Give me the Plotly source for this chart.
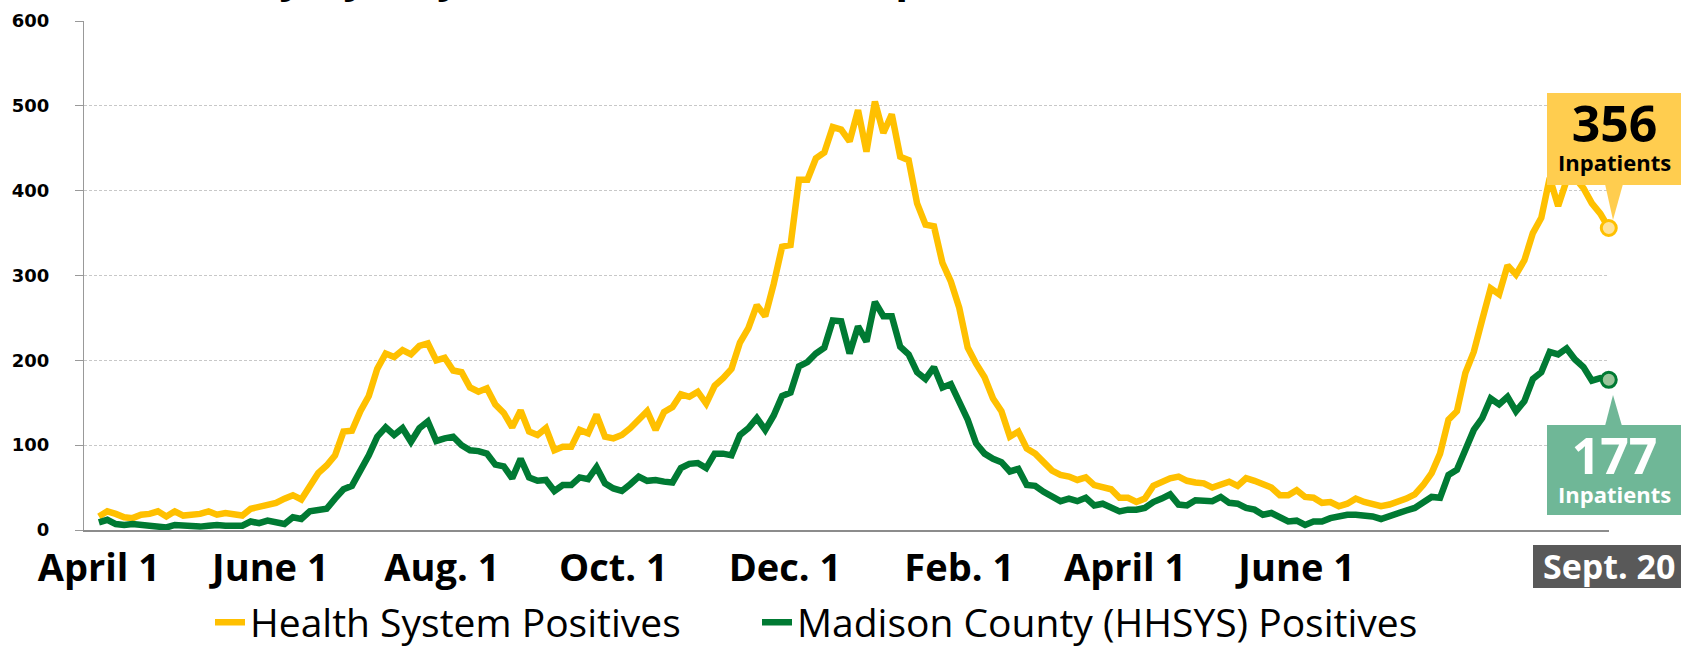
import pandas as pd
import plotly.graph_objects as go

# ---- data (every 3 days, 2020-04-01 .. 2021-09-20) ----
start_date = "2020-04-01"
step = "3D"
health_system = [
    16, 22, 19, 15, 14, 18, 19, 22, 16, 22,
    17, 18, 19, 22, 18, 20, 19, 17, 25, 27,
    29, 32, 37, 41, 36, 50, 67, 76, 88, 116,
    117, 140, 158, 190, 208, 204, 212, 207, 217, 220,
    200, 203, 188, 186, 168, 163,
    167, 148, 138, 121, 141, 116, 112, 120, 94, 98,
    98, 118, 114, 136, 110, 108, 112, 120, 130, 140,
    118, 139, 145, 160, 157, 163, 149, 170, 179, 190,
    221, 238, 265, 252, 290, 334, 336, 413, 413, 438,
    445, 475, 472, 458, 495, 446, 505,
    468, 490, 440, 436, 385, 360, 358, 315, 293, 262,
    215, 196, 180, 155, 140, 110, 116, 96, 90, 80,
    70, 65, 63, 59, 62, 53, 51, 48, 38, 38,
    33, 37, 52, 57, 61, 63, 58, 56, 55, 50,
    53, 57, 52, 61, 58, 54,
    50, 41, 41, 47, 39, 38, 32, 33, 28, 31,
    37, 33, 31, 28, 30, 33, 37, 42, 53, 67,
    90, 130, 140, 185, 210, 248, 285, 278, 312, 301,
    318, 350, 368, 415, 382, 412, 415, 403, 385, 373,
    356,
]
madison_county = [
    9, 12, 7, 6, 7, 6, 5, 3, 3, 6,
    5, 4, 4, 5, 6, 5, 5, 5, 10, 8,
    11, 9, 7, 15, 13, 22, 23, 25, 37, 48,
    52, 70, 88, 110, 121, 112, 120, 104, 120, 128,
    105, 108, 110, 100, 94, 93,
    90, 77, 75, 61, 84, 62, 58, 59, 46, 53,
    53, 62, 60, 74, 55, 49, 46, 54, 63, 58,
    59, 57, 56, 73, 78, 79, 73, 90, 90, 88,
    112, 120, 132, 118, 135, 158, 162, 193, 198, 208,
    215, 247, 246, 208, 240, 222, 269,
    252, 252, 216, 207, 186, 178, 192, 168, 172, 149,
    130, 102, 90, 84, 80, 69, 72, 53, 52, 45,
    40, 34, 37, 34, 38, 29, 31, 26, 22, 24,
    24, 26, 33, 37, 42, 30, 29, 35, 35, 34,
    39, 32, 31, 26, 24, 18,
    20, 15, 10, 11, 6, 10, 10, 14, 17, 18,
    18, 17, 16, 13, 17, 21, 23, 26, 32, 39,
    38, 65, 71, 95, 118, 132, 155, 148, 157, 140,
    152, 178, 186, 210, 207, 214, 201, 192, 176, 179,
    177,
]
series_names = ["Health System Positives", "Madison County (HHSYS) Positives"]
tick_dates = ["2020-04-01", "2020-06-01", "2020-08-01", "2020-10-01",
              "2020-12-01", "2021-02-01", "2021-04-01", "2021-06-01"]
tick_labels = ["April 1", "June 1", "Aug. 1", "Oct. 1",
               "Dec. 1", "Feb. 1", "April 1", "June 1"]
end_label = "Sept. 20"
title_text = "Day-by-Day COVID-19 Positive Inpatients"

assert len(health_system) == len(madison_county)
dates = pd.date_range(start_date, periods=len(health_system), freq=step)

YELLOW = "#FFC000"
GREEN = "#007A33"
YBOX = "#FFCD4F"
GBOX = "#6FB797"

W, H = 1681, 647
L, R, T, B = 84, 72, 21, 117
PW, PH = W - L - R, H - T - B


def px_x(px):
    return (px - L) / PW


def px_y(py):
    return (H - B - py) / PH


fig = go.Figure()
fig.add_trace(go.Scatter(x=dates, y=health_system, mode="lines", name=series_names[0],
                         legend="legend",
                         line=dict(color=YELLOW, width=6.5)))
fig.add_trace(go.Scatter(x=dates, y=madison_county, mode="lines", name=series_names[1],
                         legend="legend2",
                         line=dict(color=GREEN, width=6.5)))
fig.add_trace(go.Scatter(x=[dates[-1]], y=[health_system[-1]], mode="markers", showlegend=False,
                         cliponaxis=False,
                         marker=dict(size=15, color="#FFE39B", line=dict(color=YELLOW, width=3))))
fig.add_trace(go.Scatter(x=[dates[-1]], y=[madison_county[-1]], mode="markers", showlegend=False,
                         cliponaxis=False,
                         marker=dict(size=15, color="#9BC59B", line=dict(color=GREEN, width=3))))

shapes = []
annotations = []


def value_box(x0, x1, y0, y1, color, tri, value, cy, tcolor):
    shapes.append(dict(type="rect", xref="paper", yref="paper",
                       x0=px_x(x0), x1=px_x(x1), y0=px_y(y1), y1=px_y(y0),
                       fillcolor=color, line=dict(width=0), layer="above"))
    (bx0, by), (bx1, _), (tx, ty) = tri
    path = "M {} {} L {} {} L {} {} Z".format(px_x(bx0), px_y(by), px_x(bx1), px_y(by),
                                             px_x(tx), px_y(ty))
    shapes.append(dict(type="path", xref="paper", yref="paper", path=path,
                       fillcolor=color, line=dict(width=0), layer="above"))
    annotations.append(dict(xref="paper", yref="paper", x=px_x((x0 + x1) / 2), y=px_y(cy),
                            xanchor="center", yanchor="middle", showarrow=False,
                            text="<span style='font-size:50px'><b>%d</b></span><br><b>Inpatients</b>" % value,
                            font=dict(family="Open Sans", size=22, color=tcolor)))


value_box(1547, 1681, 93, 185, YBOX, [(1605, 184), (1623, 184), (1613, 220)],
          health_system[-1], 133, "black")
value_box(1547, 1681, 425, 515, GBOX, [(1605, 426), (1622, 426), (1613, 395)],
          madison_county[-1], 465, "white")

# end date box
shapes.append(dict(type="rect", xref="paper", yref="paper",
                   x0=px_x(1533), x1=px_x(1681), y0=px_y(588), y1=px_y(545),
                   fillcolor="#595959", line=dict(width=0), layer="above"))
annotations.append(dict(xref="paper", yref="paper", x=px_x(1609), y=px_y(566),
                        xanchor="center", yanchor="middle", showarrow=False,
                        text="<b>%s</b>" % end_label,
                        font=dict(family="Open Sans", size=34, color="white")))

# title (clipped at top of page)
annotations.append(dict(xref="paper", yref="paper", x=px_x(221), y=px_y(6),
                        xanchor="left", yanchor="bottom", showarrow=False,
                        text="<b>%s</b>" % title_text,
                        font=dict(family="Open Sans", size=42, color="black")))

legend_common = dict(orientation="h", xref="container", yref="container",
                     xanchor="left", y=0.038, yanchor="middle",
                     font=dict(family="Open Sans", size=39, color="black"),
                     itemwidth=30, bgcolor="rgba(0,0,0,0)")

fig.update_layout(
    width=W, height=H,
    margin=dict(l=L, r=R, t=T, b=B, pad=0, autoexpand=False),
    paper_bgcolor="white", plot_bgcolor="white",
    showlegend=True,
    legend=dict(legend_common, x=210 / W),
    legend2=dict(legend_common, x=757 / W),
    shapes=shapes,
    annotations=annotations,
    xaxis=dict(type="date", range=["2020-03-26 17:00", "2021-09-20 02:00"],
               tickvals=tick_dates, ticktext=tick_labels,
               tickfont=dict(family="Open Sans", size=38, color="black", weight=700),
               ticks="", ticklabelstandoff=3, automargin=False,
               showgrid=False, showline=True, linecolor="#8c8c8c", linewidth=2,
               zeroline=False, fixedrange=True),
    yaxis=dict(range=[0, 600], tickvals=[0, 100, 200, 300, 400, 500, 600],
               tickfont=dict(family="DejaVu Sans", size=18, color="black", weight=700),
               ticks="outside", ticklen=8, tickcolor="#999999", tickwidth=1,
               ticklabelstandoff=22, automargin=False,
               showgrid=True, gridcolor="#C8C8C8", griddash="3px,2px", gridwidth=1,
               showline=True, linecolor="#999999", linewidth=1,
               zeroline=False, fixedrange=True),
)

fig.write_html("out.html", config={"displayModeBar": False},
               post_script="document.body.style.margin='0';document.body.style.overflow='hidden';")
